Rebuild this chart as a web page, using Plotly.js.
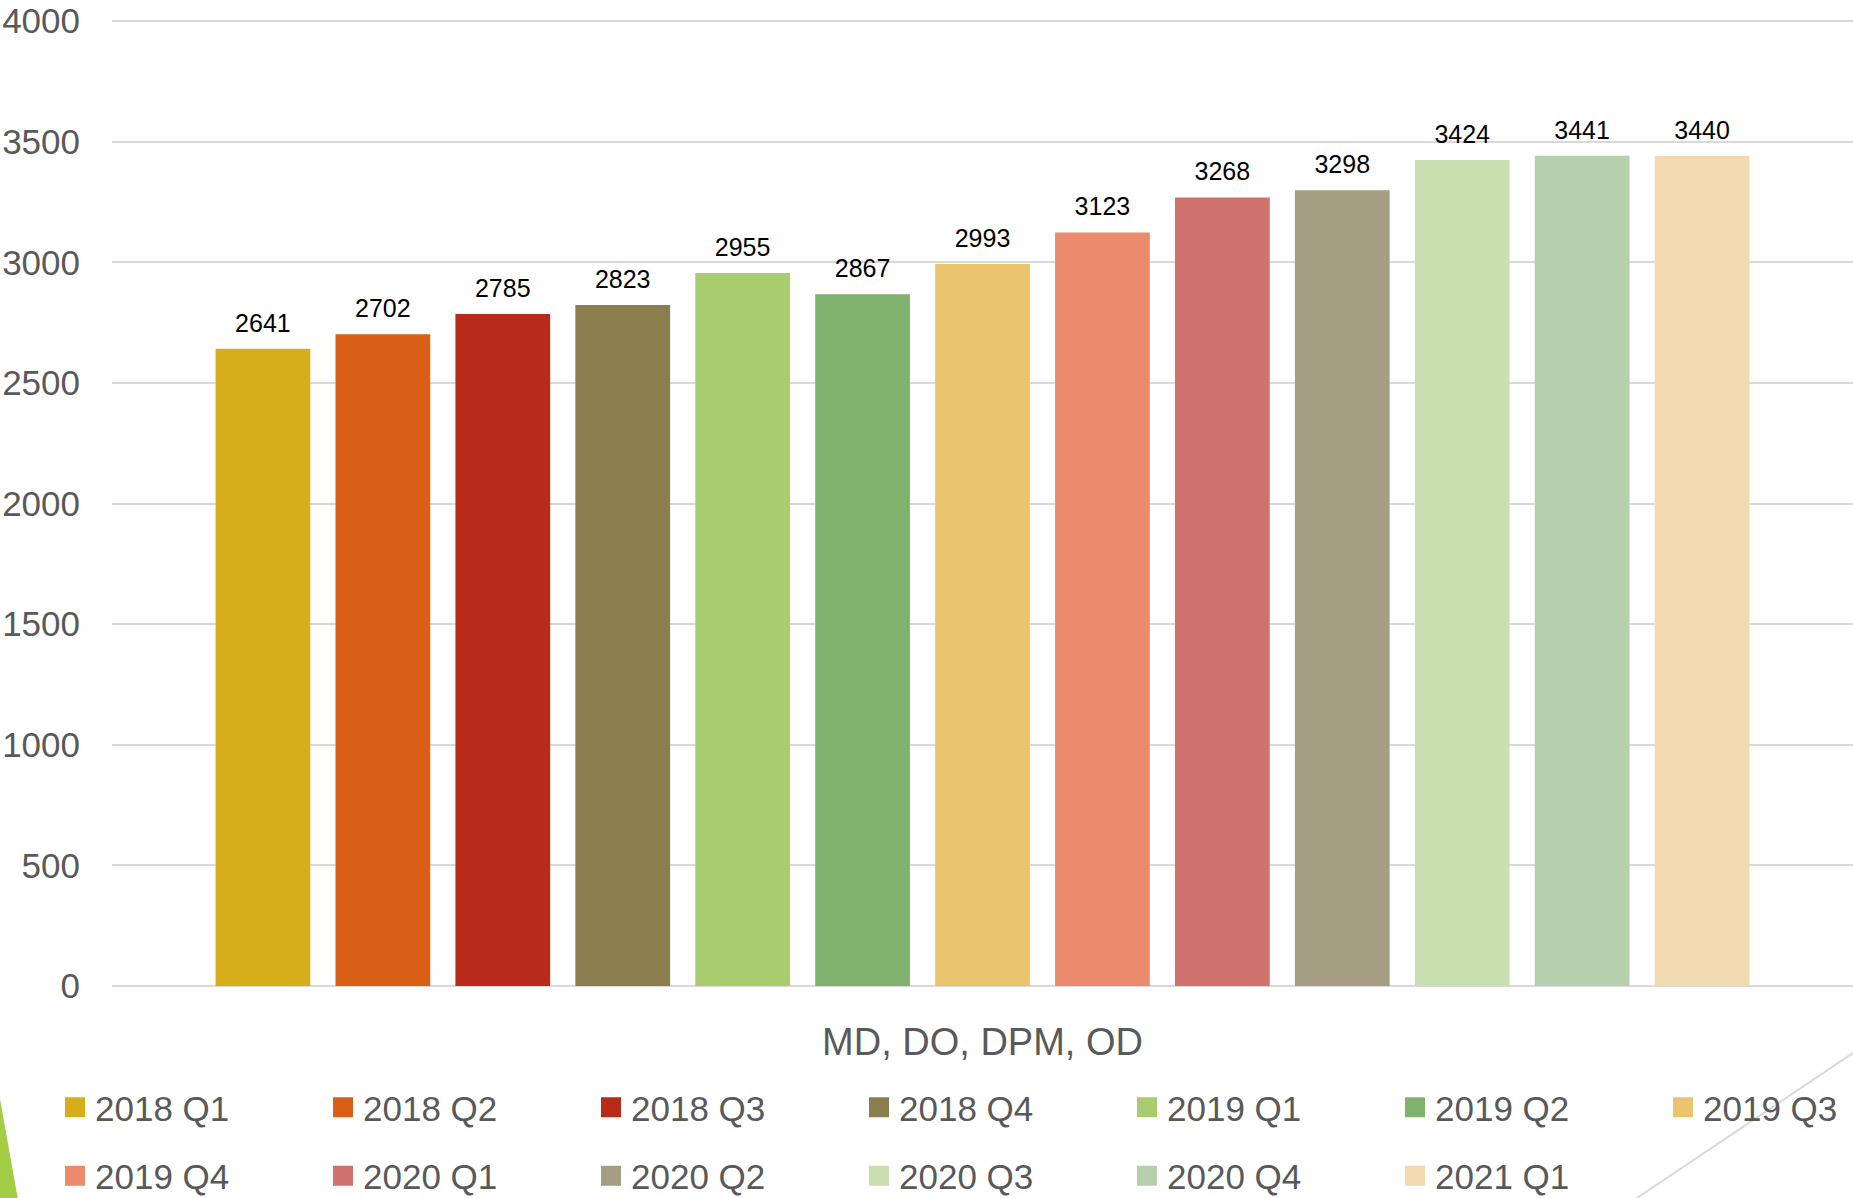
<!DOCTYPE html>
<html>
<head>
<meta charset="utf-8">
<script src="https://cdn.plot.ly/plotly-3.0.1.min.js"></script>
<style>
html, body { margin: 0; padding: 0; background: #ffffff; }
#chart { width: 1853px; height: 1198px; }
</style>
</head>
<body>
<div id="chart"></div>
<script>
// ---- data ----
const category = ['MD, DO, DPM, OD'];
const seriesNames = ['2018 Q1', '2018 Q2', '2018 Q3', '2018 Q4', '2019 Q1', '2019 Q2', '2019 Q3',
                     '2019 Q4', '2020 Q1', '2020 Q2', '2020 Q3', '2020 Q4', '2021 Q1'];
const seriesValues = [2641, 2702, 2785, 2823, 2955, 2867, 2993, 3123, 3268, 3298, 3424, 3441, 3440];
const seriesColors = ['#D6AE1C', '#D95F16', '#B82A19', '#8A7D4E', '#A8CC6E', '#80B26E', '#EBC56D',
                      '#EC8A6D', '#CF716C', '#A59E82', '#C9DFB0', '#B6CFAE', '#F2DAB0'];
const yTickValues = [0, 500, 1000, 1500, 2000, 2500, 3000, 3500, 4000];
const yTickLabels = ['0', '500', '1000', '1500', '2000', '2500', '3000', '3500', '4000'];

// ---- geometry / style ----
const W = 1853, H = 1198;
const M = { l: 112, r: 0, t: 19, b: 212 };
const PW = W - M.l - M.r, PH = H - M.t - M.b;
const px = x => (x - M.l) / PW;
const py = y => (H - M.b - y) / PH;
// keep the top gridline 2px inside the plot area so it is drawn
const yTop = 4000 * PH / (PH - 2);

const font = '"Liberation Sans", Arial, sans-serif';
const grey = '#595959';
const legendCols = 7;
const legendPitch = 268;
const gap = 0.1045;

const traces = [];
seriesNames.forEach((name, i) => {
  traces.push({
    type: 'bar',
    x: category,
    y: [seriesValues[i]],
    name: name,
    legendgroup: name,
    showlegend: false,
    marker: { color: seriesColors[i] },
    hovertemplate: name + ': %{y}<extra></extra>'
  });
});
// value labels, grouped like the bars
seriesNames.forEach((name, i) => {
  traces.push({
    type: 'scatter',
    mode: 'markers+text',
    x: category,
    y: [seriesValues[i]],
    name: name,
    legendgroup: name,
    showlegend: false,
    marker: { size: 16, opacity: 0, color: seriesColors[i] },
    text: [String(seriesValues[i])],
    textposition: 'top center',
    textfont: { family: font, size: 25, color: '#000000' },
    cliponaxis: false,
    hoverinfo: 'skip'
  });
});
// legend entries (bigger square swatches)
seriesNames.forEach((name, i) => {
  const col = i % legendCols;
  const legendId = col === 0 ? 'legend' : 'legend' + (col + 1);
  traces.push({
    type: 'scatter',
    mode: 'markers',
    xaxis: 'x2',
    x: category,
    y: [null],
    name: name,
    legend: legendId,
    legendgroup: name,
    marker: { symbol: 'square', size: 16, color: seriesColors[i],
              line: { color: seriesColors[i], width: 4 } },
    hoverinfo: 'skip'
  });
});

const layout = {
  width: W, height: H,
  margin: Object.assign({ autoexpand: false, pad: 0 }, M),
  paper_bgcolor: '#ffffff',
  plot_bgcolor: '#ffffff',
  barmode: 'group',
  bargap: gap,
  bargroupgap: 0.21,
  scattermode: 'group',
  scattergap: gap,
  showlegend: true,
  xaxis: {
    type: 'category',
    showgrid: false,
    showline: false,
    zeroline: false,
    ticks: '',
    ticklabelstandoff: 30,
    tickfont: { family: font, size: 38, color: grey },
    fixedrange: true
  },
  xaxis2: {
    type: 'category',
    overlaying: 'x',
    visible: false,
    fixedrange: true
  },
  yaxis: {
    range: [0, yTop],
    tickvals: yTickValues,
    ticktext: yTickLabels,
    showgrid: true,
    gridcolor: '#D9D9D9',
    gridwidth: 1.5,
    zeroline: true,
    zerolinecolor: '#D9D9D9',
    zerolinewidth: 2,
    showline: false,
    ticks: '',
    ticklabelstandoff: 31,
    tickfont: { family: font, size: 35, color: grey },
    fixedrange: true
  },
  shapes: [
    {
      type: 'path', xref: 'paper', yref: 'paper',
      path: 'M ' + px(-3) + ' ' + py(1082) + ' L ' + px(18) + ' ' + py(1200) +
            ' L ' + px(-3) + ' ' + py(1200) + ' Z',
      fillcolor: '#A3CD45', line: { width: 0 }, layer: 'below'
    },
    {
      type: 'line', xref: 'paper', yref: 'paper',
      x0: px(1630), y0: py(1202.7), x1: px(1860), y1: py(1048.3),
      line: { color: '#D9D9D9', width: 2 }, layer: 'below'
    }
  ]
};

for (let c = 0; c < legendCols; c++) {
  const id = c === 0 ? 'legend' : 'legend' + (c + 1);
  layout[id] = {
    orientation: 'v',
    x: px(55 + legendPitch * c), xanchor: 'left',
    y: py(1078), yanchor: 'top',
    traceorder: 'grouped',
    tracegroupgap: 20,
    bgcolor: 'rgba(0,0,0,0)',
    borderwidth: 0,
    font: { family: font, size: 35, color: grey }
  };
}

Plotly.newPlot('chart', traces, layout, { displayModeBar: false, responsive: false });
</script>
</body>
</html>
